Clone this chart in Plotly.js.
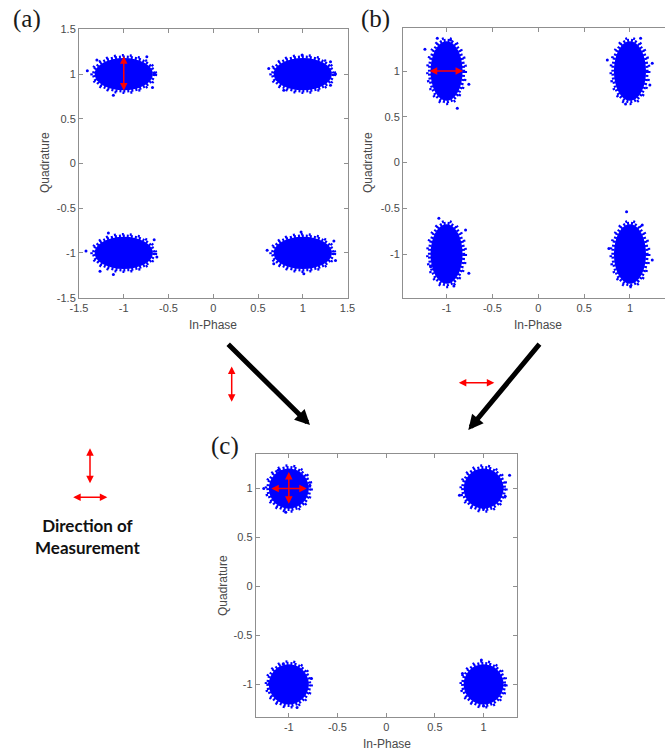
<!DOCTYPE html>
<html><head><meta charset="utf-8">
<script src="https://cdn.plot.ly/plotly-3.0.1.min.js"></script>
<style>html,body{margin:0;padding:0;background:#fff;overflow:hidden}</style>
</head><body><div id="chart" style="width:665px;height:750px"></div>
<script>
// ---- data ----
// ideal QPSK symbol positions (In-Phase, Quadrature)
const symbolI = [-1, 1, -1, 1];
const symbolQ = [1, 1, -1, -1];
// panels (a), (b), (c): half-extent of the dense part of each cloud
const panelNames = ['(a)', '(b)', '(c)'];
const coreI = [0.325, 0.175, 0.205];
const coreQ = [0.18, 0.325, 0.205];
// half-extent of the sparse fringe of each cloud
const fringeI = [0.36, 0.21, 0.235];
const fringeQ = [0.21, 0.36, 0.235];
// isolated outlier samples
const outA_I = [-1.407,-1.30,-1.116,-0.679,-0.657,-0.742, 0.62,1.31,0.994,1.366,0.788,1.31, -1.422,-1.265,-1.116,-0.63,-0.66,-1.172, 0.602,0.981,1.348,1.366,1.012,0.676];
const outA_Q = [1.036,1.156,0.764,0.85,1.007,1.193, 1.063,1.137,1.212,1.0,0.82,0.876, -0.979,-1.203,-1.24,-1.046,-0.852,-0.777, -0.971,-0.766,-0.866,-1.083,-1.232,-1.12];
const outB_I = [-1.236,-0.757,-0.883,-0.956,-1.101, 0.753,1.243,1.217,0.952,1.116, -1.084,-0.757,-0.92,-1.174,-0.793, 0.963,0.77,1.243,1.007,1.134];
const outB_Q = [1.237,0.855,0.592,1.339,1.357, 1.12,1.084,0.847,0.639,1.357, -0.61,-1.21,-1.35,-1.139,-0.738, -0.538,-0.939,-1.066,-1.35,-0.683];
const outC_I = [-1.257,-1.031,-0.784,-1.11, 0.752,1.267,1.222,1.0, -1.203,-0.915,-0.767,-1.058, 0.783,1.222,0.977,1.0];
const outC_Q = [1.0,0.758,1.034,1.187, 0.932,1.136,0.921,0.796, -0.99,-1.235,-0.939,-0.793, -0.888,-1.007,-0.752,-1.221];
// tick values and labels
const ticksA = [-1.5, -1, -0.5, 0, 0.5, 1, 1.5];
const tickTextA = ['-1.5', '-1', '-0.5', '0', '0.5', '1', '1.5'];
const ticksBC = [-1, -0.5, 0, 0.5, 1];
const tickTextBC = ['-1', '-0.5', '0', '0.5', '1'];
// red measurement arrows inside the panels: [panel, x0, y0, x1, y1]
const measPanel = [0, 1, 2, 2];
const measX0 = [-1.0, -1.20, -1.195, -1.0];
const measY0 = [0.80, 1.0, 1.0, 0.83];
const measX1 = [-1.0, -0.82, -0.815, -1.0];
const measY1 = [1.20, 1.0, 1.0, 1.17];
const xTitle = 'In-Phase';
const yTitle = 'Quadrature';

// ---- layout ----
const W = 665, H = 750;
const px = v => v / W, py = v => 1 - v / H;
const blue = 'rgb(0,0,255)';
const axCol = '#8f8f8f';
const txtCol = '#4a4a4a';
const tickFont = {family: 'Liberation Sans, Arial, sans-serif', size: 11, color: txtCol};

function axis(domain, range, tv, tt, mirror) {
  return {domain: domain, range: range, tickvals: tv, ticktext: tt, ticks: 'inside', ticklen: 4,
    tickcolor: axCol, showline: true, linecolor: axCol, linewidth: 1, mirror: mirror,
    showgrid: false, zeroline: false, fixedrange: true, tickfont: tickFont};
}

const layout = {
  width: W, height: H, margin: {l: 0, r: 0, t: 0, b: 0},
  paper_bgcolor: '#fff', plot_bgcolor: '#fff', showlegend: false,
  xaxis:  axis([px(79), px(347.5)], [-1.5, 1.5], ticksA, tickTextA, 'ticks'),
  yaxis:  axis([py(297.7), py(29.3)], [-1.5, 1.5], ticksA, tickTextA, 'ticks'),
  xaxis2: axis([px(403), 1], [-1.475, 1.382], ticksBC, tickTextBC, 'ticks'),
  yaxis2: axis([py(298), py(28)], [-1.48, 1.47], ticksBC, tickTextBC, false),
  xaxis3: axis([px(255.7), px(516.7)], [-1.34, 1.34], ticksBC, tickTextBC, 'ticks'),
  yaxis3: axis([py(716.7), py(454.3)], [-1.33, 1.35], ticksBC, tickTextBC, 'ticks'),
  shapes: [], annotations: []
};
layout.xaxis2.anchor = 'y2'; layout.yaxis2.anchor = 'x2';
layout.xaxis3.anchor = 'y3'; layout.yaxis3.anchor = 'x3';

// clouds drawn as ellipses in data coordinates: solid core + dotted fringes
const suffix = ['', '2', '3'];
for (let p = 0; p < 3; p++) {
  for (let k = 0; k < symbolI.length; k++) {
    const xr = 'x' + suffix[p], yr = 'y' + suffix[p];
    const ell = (rx, ry) => ({x0: symbolI[k] - rx, x1: symbolI[k] + rx, y0: symbolQ[k] - ry, y1: symbolQ[k] + ry});
    layout.shapes.push(Object.assign({type: 'circle', xref: xr, yref: yr, fillcolor: blue, line: {width: 0}, layer: 'below'},
      ell(coreI[p], coreQ[p])));
    layout.shapes.push(Object.assign({type: 'circle', xref: xr, yref: yr, fillcolor: 'rgba(0,0,0,0)',
      line: {width: 3, color: blue, dash: '2px,2px'}, layer: 'below'},
      ell((coreI[p] * 2 + fringeI[p]) / 3, (coreQ[p] * 2 + fringeQ[p]) / 3)));
    layout.shapes.push(Object.assign({type: 'circle', xref: xr, yref: yr, fillcolor: 'rgba(0,0,0,0)',
      line: {width: 2.5, color: blue, dash: '2px,6px'}, layer: 'below'},
      ell(fringeI[p], fringeQ[p])));
  }
}

const traces = [
  {type: 'scatter', mode: 'markers', x: outA_I, y: outA_Q, xaxis: 'x', yaxis: 'y', marker: {color: blue, size: 3}, hoverinfo: 'skip'},
  {type: 'scatter', mode: 'markers', x: outB_I, y: outB_Q, xaxis: 'x2', yaxis: 'y2', marker: {color: blue, size: 3}, hoverinfo: 'skip'},
  {type: 'scatter', mode: 'markers', x: outC_I, y: outC_Q, xaxis: 'x3', yaxis: 'y3', marker: {color: blue, size: 3}, hoverinfo: 'skip'}
];

// red measurement arrows
for (let i = 0; i < measPanel.length; i++) {
  const s = suffix[measPanel[i]];
  layout.annotations.push({xref: 'x' + s, yref: 'y' + s, axref: 'x' + s, ayref: 'y' + s,
    x: measX1[i], y: measY1[i], ax: measX0[i], ay: measY0[i], text: '', showarrow: true,
    arrowside: 'end+start', arrowhead: 2, arrowsize: 1, arrowwidth: 1.5, arrowcolor: '#ff0000'});
}

// axis titles
const titlePos = [[213, 325, 45, 163], [538, 325, 368, 163], [387, 744, 223, 586]];
titlePos.forEach(t => {
  layout.annotations.push({xref: 'paper', yref: 'paper', x: px(t[0]), y: py(t[1]), text: xTitle, showarrow: false,
    xanchor: 'center', yanchor: 'middle', font: {family: 'Liberation Sans, Arial, sans-serif', size: 12, color: txtCol}});
  layout.annotations.push({xref: 'paper', yref: 'paper', x: px(t[2]), y: py(t[3]), text: yTitle, showarrow: false, textangle: -90,
    xanchor: 'center', yanchor: 'middle', font: {family: 'Liberation Sans, Arial, sans-serif', size: 12, color: txtCol}});
});

// panel labels
const labelPos = [[27, 19], [375, 19], [225, 446]];
labelPos.forEach((l, i) => layout.annotations.push({xref: 'paper', yref: 'paper', x: px(l[0]), y: py(l[1]),
  text: panelNames[i], showarrow: false, xanchor: 'center', yanchor: 'middle',
  font: {family: 'Liberation Serif, DejaVu Serif, serif', size: 25, color: '#1a1a1a'}}));

// black arrows (a)->(c) and (b)->(c): tip position and tail position in px
[[310, 425, 226.7, 342.7], [468.3, 430, 540.7, 342.7]].forEach(a => layout.annotations.push({
  xref: 'paper', yref: 'paper', x: px(a[0]), y: py(a[1]), ax: a[2] - a[0], ay: a[3] - a[1],
  text: '', showarrow: true, arrowhead: 2, arrowsize: 0.6, arrowwidth: 5, arrowcolor: '#000'}));

// small red direction arrows between panels and in the key
[[231.7, 401.7, 231.7, 365], [494.3, 382.7, 457.3, 382.7], [90, 483.3, 90, 446.7], [107.3, 497.3, 71.7, 497.3]].forEach(a =>
  layout.annotations.push({xref: 'paper', yref: 'paper', x: px(a[0]), y: py(a[1]), ax: a[2] - a[0], ay: a[3] - a[1],
    text: '', showarrow: true, arrowside: 'end+start', arrowhead: 2, arrowsize: 1, arrowwidth: 1.5, arrowcolor: '#ff0000'}));

layout.annotations.push({xref: 'paper', yref: 'paper', x: px(88), y: py(536), text: 'Direction of<br>Measurement',
  showarrow: false, xanchor: 'center', yanchor: 'middle', align: 'center',
  font: {family: 'Lato, Open Sans, sans-serif', size: 17, color: '#111', weight: 'bold'}});

Plotly.newPlot('chart', traces, layout, {staticPlot: true, displayModeBar: false});
</script></body></html>
